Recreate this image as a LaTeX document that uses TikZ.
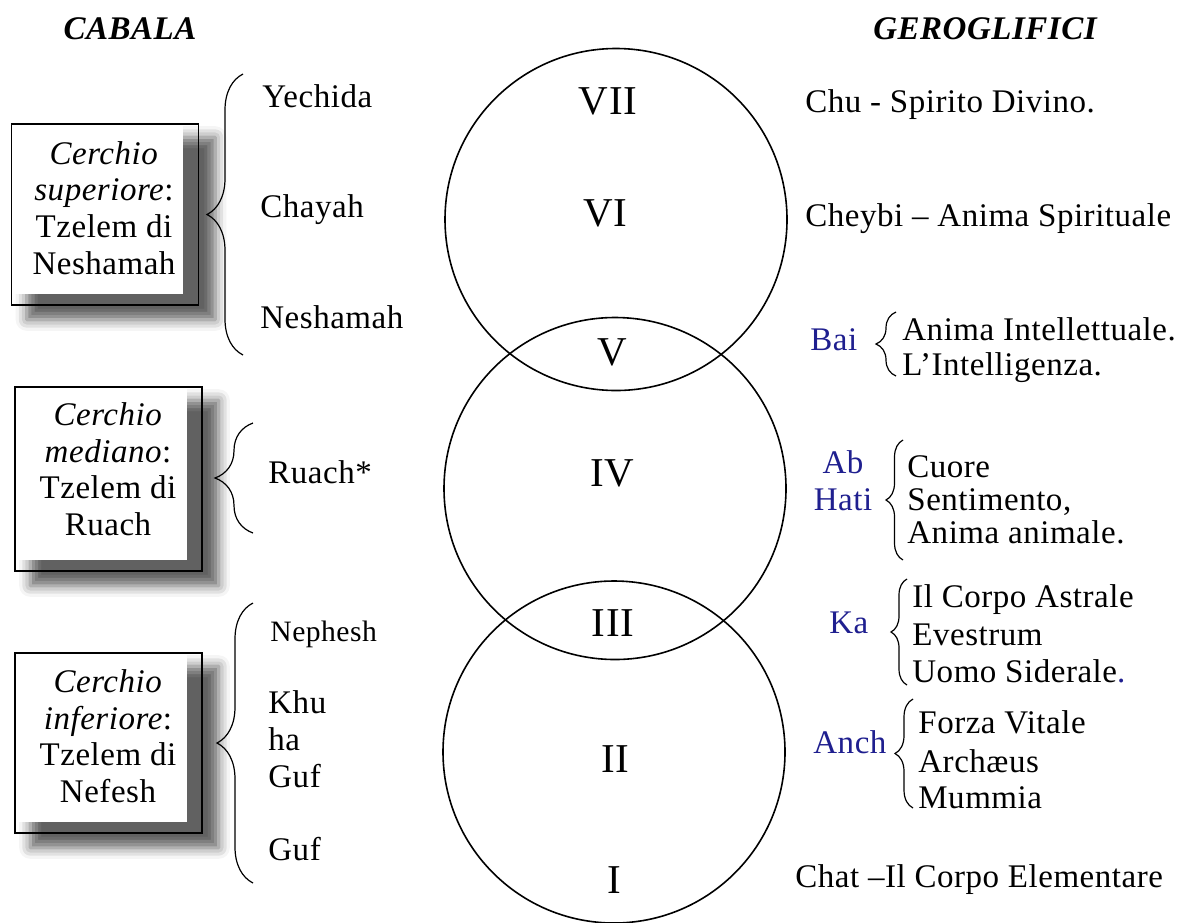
\documentclass[tikz,border=0pt]{standalone}
\usepackage{fontspec}
\setmainfont[LetterSpace=1.6]{Liberation Serif}
\usetikzlibrary{positioning,decorations.pathreplacing,shadows.blur,backgrounds}
\definecolor{kbnavy}{HTML}{1F1F8F}

\begin{document}
\begin{tikzpicture}[x=0.5pt,y=-0.5pt,
 txt/.style={inner sep=0pt,anchor=base west,font=\fontsize{16.5}{18}\selectfont},
 egy/.style={txt,text=kbnavy},
 num/.style={inner sep=0pt,anchor=base,font=\fontsize{20.5}{22}\selectfont},
 head/.style={inner sep=0pt,anchor=base,font=\fontsize{16.5}{18}\selectfont\bfseries\itshape},
 box/.style={draw,line width=0.8pt,minimum width=93.5pt,inner sep=0pt},
 boxtext/.style={inner sep=0pt,align=center,font=\fontsize{16.5}{18.3}\selectfont},
 ring/.style={circle,draw,line width=0.8pt,minimum size=171pt,inner sep=0pt},
 curl/.style={decorate,decoration={brace,amplitude=#1},line width=0.6pt}]
\useasboundingbox (0,0) rectangle (1181,922);
\node[head](cabala) at (130,39){CABALA};
\node[head](gero) at (985,39){GEROGLIFICI};

\node[ring](upper) at (616,219.5){};
\node[ring](middle) at (615,488.5){};
\node[ring](lower) at (614,752){};
\foreach \r/\x/\y in {VII/608/114,VI/605/226,V/612/365,IV/612/486,III/613/636,II/615/772,I/614/893}
 \node[num](n\r) at (\x,\y){\r};

\node[box,minimum height=90.5pt](sup) at (105,214.5){};
\node[box,minimum height=92pt](med) at (108.5,479){};
\node[box,minimum height=90pt](inf) at (108.5,743){};
\node[boxtext](suptext) at (104,208){\textit{Cerchio}\\\textit{superiore}:\\Tzelem di\\Neshamah};
\node[boxtext](medtext) at (108,469){\textit{Cerchio}\\\textit{mediano}:\\Tzelem di\\Ruach};
\node[boxtext](inftext) at (108,736){\textit{Cerchio}\\\textit{inferiore}:\\Tzelem di\\Nefesh};
\begin{scope}[on background layer]
\foreach \b in {sup,med,inf}{
 \path[blur shadow={shadow xshift=8pt,shadow yshift=-7pt,shadow blur radius=5.5pt,shadow opacity=62}]
  (\b.north west) rectangle (\b.south east);
 \fill[white](\b.north west) rectangle ([xshift=-8pt,yshift=6pt]\b.south east);
}
\end{scope}

\node[txt](yechida) at (262,107){Yechida};
\node[txt](chayah) at (260,217){Chayah};
\node[txt](neshamah) at (260,328){Neshamah};
\node[txt](ruach) at (268,483){Ruach*};
\node[txt,font=\fontsize{14.8}{16}\selectfont](nephesh) at (270,641){Nephesh};
\node[txt](khu) at (268,713){Khu};
\node[txt](ha) at (268,750){ha};
\node[txt](guf) at (268,787){Guf};
\node[txt](guf2) at (268,860){Guf};

\coordinate(b1s) at (243,355); \coordinate(b1n) at (243,74);
\coordinate(b2s) at (253,533); \coordinate(b2n) at (253,423);
\coordinate(b3s) at (253,883); \coordinate(b3n) at (253,603);
\draw[curl=18pt](b1s)--(b1n);
\draw[curl=19pt](b2s)--(b2n);
\draw[curl=18pt](b3s)--(b3n);

\node[txt](chu) at (805,112){Chu - Spirito Divino.};
\node[txt](cheybi) at (805,226){Cheybi – Anima Spirituale};
\node[egy](bai) at (810,350){Bai};
\node[txt](intell) at (902,340){Anima Intellettuale.};
\node[txt](intell2) at (902,375){L’Intelligenza.};
\node[egy,anchor=base](ab) at (843,473){Ab};
\node[egy,anchor=base](hati) at (843,510){Hati};
\node[txt](cuore) at (907,477){Cuore};
\node[txt](sent) at (907,510){Sentimento,};
\node[txt](animale) at (907,543){Anima animale.};
\node[egy](ka) at (829,633){Ka};
\node[txt](astrale) at (912,607){Il Corpo Astrale};
\node[txt](evestrum) at (912,645){Evestrum};
\node[txt](siderale) at (912,682){Uomo Siderale\textcolor{kbnavy}{.}};
\node[egy](anch) at (813,753){Anch};
\node[txt](forza) at (918,733){Forza Vitale};
\node[txt](archaeus) at (918,772){Archæus};
\node[txt](mummia) at (918,808){Mummia};
\node[txt](chat) at (795,887){Chat –Il Corpo Elementare};

\coordinate(r1s) at (896,376); \coordinate(r1n) at (896,312);
\coordinate(r2s) at (903,560); \coordinate(r2n) at (903,440);
\coordinate(r3s) at (907,685); \coordinate(r3n) at (907,579);
\coordinate(r4s) at (913,808); \coordinate(r4n) at (913,699);
\draw[curl=10pt](r1s)--(r1n);
\draw[curl=8.5pt](r2s)--(r2n);
\draw[curl=8pt](r3s)--(r3n);
\draw[curl=9pt](r4s)--(r4n);
\end{tikzpicture}
\end{document}
